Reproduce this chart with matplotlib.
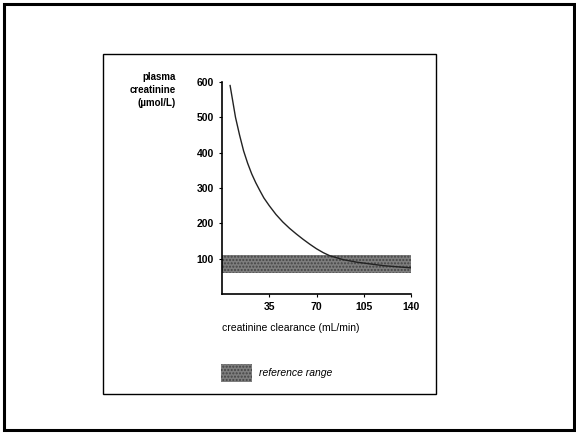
import matplotlib
matplotlib.use("Agg")
import matplotlib.pyplot as plt
from matplotlib.patches import Rectangle

################################################################################
# Values
clearance = [6, 8, 10, 13, 16, 19, 22, 25, 28, 31, 35, 40, 45, 50, 55, 60, 65, 70,
             75, 80, 90, 100, 110, 120, 130, 140]
creatinine = [590, 545, 500, 450, 405, 370, 340, 315, 293, 272, 250, 225, 204, 186,
              170, 155, 141, 128, 117, 108, 97, 90, 85, 80, 77, 74]
ref_low, ref_high = 60, 110
x_ticks = [35, 70, 105, 140]
y_ticks = [100, 200, 300, 400, 500, 600]

################################################################################
plt.rcParams['font.family'] = ['Liberation Sans', 'DejaVu Sans']

fig = plt.figure(figsize=(5.76, 4.33), dpi=100)
W, H = 576, 433

def px(x0, y0, x1, y1):
    # pixel box -> figure fraction [left, bottom, width, height]
    return [x0 / W, 1 - y1 / H, (x1 - x0) / W, (y1 - y0) / H]

# outer and inner frames
fig.patches.append(Rectangle((4 / W, 1 - 430 / H), 570 / W, 426 / H, transform=fig.transFigure,
                             fill=False, lw=2.2, ec='black'))
fig.patches.append(Rectangle((103 / W, 1 - 394 / H), 333 / W, 340 / H, transform=fig.transFigure,
                             fill=False, lw=1.0, ec='black'))

band_fc = '#7e7e7e'
band_ec = '#444444'

ax = fig.add_axes(px(222, 82, 411, 294))
ax.axhspan(ref_low, ref_high, facecolor=band_fc, edgecolor=band_ec,
           hatch='.....', lw=0, zorder=1)
ax.plot(clearance, creatinine, color='#222222', lw=1.0, zorder=2)

ax.set_xlim(0, 140)
ax.set_ylim(0, 600)
ax.set_xticks(x_ticks)
ax.set_yticks(y_ticks)
ax.tick_params(labelsize=7.5, length=2.5, width=0.8, direction='out')
for lbl in ax.get_xticklabels() + ax.get_yticklabels():
    lbl.set_fontweight('bold')
for s in ['top', 'right']:
    ax.spines[s].set_visible(False)
for s in ['left', 'bottom']:
    ax.spines[s].set_linewidth(1.2)

fig.text(176 / W, 1 - 72 / H, 'plasma\ncreatinine\n(\u00b5mol/L)', ha='right', va='top',
         fontsize=7, fontweight='bold', linespacing=1.35)
fig.text(222 / W, 1 - 328 / H, 'creatinine clearance (mL/min)', ha='left', va='center',
         fontsize=7.5)

# legend swatch
fig.patches.append(Rectangle((221 / W, 1 - 382 / H), 31 / W, 18 / H, transform=fig.transFigure,
                             facecolor=band_fc, edgecolor=band_ec, hatch='.....', lw=0))
fig.text(259 / W, 1 - 373 / H, 'reference range', ha='left', va='center',
         fontsize=7.5, style='italic')

plt.savefig('out.png', dpi=100)
